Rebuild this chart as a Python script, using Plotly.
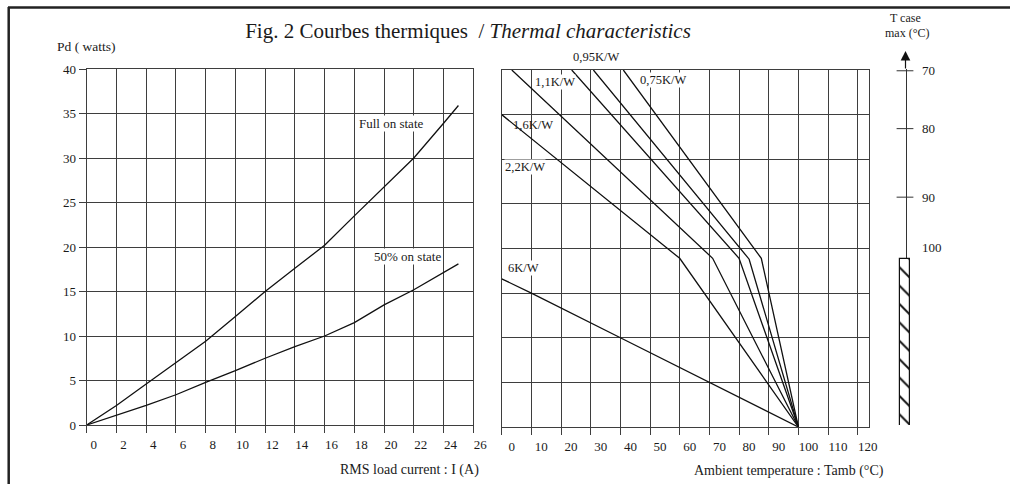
import plotly.graph_objects as go

# ---------------- data ----------------
# Left panel: dissipated power vs RMS load current
current_a = [0, 2, 4, 6, 8, 10, 12, 14, 16, 18, 20, 22, 24, 25]
pd_full_on = [0, 2.2, 4.6, 7.0, 9.4, 12.2, 15.0, 17.6, 20.2, 23.5, 26.8, 30.0, 33.9, 35.9]
pd_half_on = [0, 1.1, 2.2, 3.4, 4.8, 6.1, 7.5, 8.8, 10.0, 11.5, 13.5, 15.2, 17.1, 18.1]

# Right panel: max power vs ambient temperature for several heatsink Rth
rth_names = ["0,75K/W", "0,95K/W", "1,1K/W", "1,6K/W", "2,2K/W", "6K/W"]
tamb_075 = [41.0, 87.5, 100];  pd_075 = [40, 18.9, 0]
tamb_095 = [30.9, 83.4, 100];  pd_095 = [40, 18.8, 0]
tamb_11 = [23.6, 80.0, 100];   pd_11 = [40, 18.9, 0]
tamb_16 = [3.4, 71.1, 100];    pd_16 = [40, 18.9, 0]
tamb_22 = [0, 60.0, 100];      pd_22 = [35, 18.9, 0]
tamb_6 = [0, 10, 40, 70, 100]; pd_6 = [16.6, 15.0, 10.0, 5.0, 0]

# Case temperature scale (labels and equivalent Pd positions)
tcase_labels = ["70", "80", "90", "100"]
tcase_pd = [39.8, 33.3, 25.6, 20.0]
tcase_hatch_base = -0.35
tcase_hatch_top = 18.7

# ---------------- figure ----------------
W, H = 1010, 484
FONT = "Liberation Serif"
TXT = "#1a1a1a"
GRID = "#3e3e3e"
CURVE = "#111111"

def px(x):
    return x / W

def py(y):
    return 1 - y / H

fig = go.Figure()

fig.add_trace(go.Scatter(x=current_a, y=pd_full_on, mode="lines",
                         line=dict(color=CURVE, width=1.3), xaxis="x", yaxis="y",
                         showlegend=False, hoverinfo="skip"))
fig.add_trace(go.Scatter(x=current_a, y=pd_half_on, mode="lines",
                         line=dict(color=CURVE, width=1.3), xaxis="x", yaxis="y",
                         showlegend=False, hoverinfo="skip"))

for tx, ty in [(tamb_075, pd_075), (tamb_095, pd_095), (tamb_11, pd_11),
               (tamb_16, pd_16), (tamb_22, pd_22), (tamb_6, pd_6)]:
    fig.add_trace(go.Scatter(x=tx, y=ty, mode="lines",
                             line=dict(color=CURVE, width=1.3), xaxis="x2", yaxis="y2",
                             showlegend=False, hoverinfo="skip"))

# Hatched "forbidden" bar on the case-temperature scale
fig.add_trace(go.Bar(x=[0], y=[tcase_hatch_top - tcase_hatch_base], base=[tcase_hatch_base],
                     width=0.5, xaxis="x3", yaxis="y3", cliponaxis=False,
                     marker=dict(color="white", line=dict(color="#111", width=1.2),
                                 pattern=dict(shape="\\", size=13, solidity=0.15,
                                              fgcolor="#111", bgcolor="white")),
                     showlegend=False, hoverinfo="skip"))
# Tick marks on the case-temperature scale (70, 80, 90)
fig.add_trace(go.Scatter(x=[0] * 3, y=tcase_pd[:3], mode="markers", cliponaxis=False,
                         marker=dict(symbol="line-ew", size=12,
                                     line=dict(color="#333", width=1)),
                         xaxis="x3", yaxis="y3", showlegend=False, hoverinfo="skip"))

axis_common = dict(showgrid=True, gridcolor=GRID, gridwidth=1.1, zeroline=False,
                   showline=True, linecolor=GRID, linewidth=1.1, mirror=True,
                   ticks="outside", ticklen=7, tickcolor=GRID, automargin=False,
                   tickfont=dict(family=FONT, size=13, color=TXT))

fig.update_layout(
    template="none",
    width=W, height=H,
    margin=dict(l=0, r=0, t=0, b=0, pad=0, autoexpand=False),
    paper_bgcolor="white", plot_bgcolor="white",
    showlegend=False,
    xaxis=dict(domain=[px(86.7), px(473.3)], range=[0, 26], dtick=2, anchor="y",
               ticklabelshift=7, **axis_common),
    yaxis=dict(domain=[py(425), py(69)], range=[0, 40], dtick=5, anchor="x",
               **axis_common),
    xaxis2=dict(domain=[px(501.7), px(869.3)], range=[0, 123.9], dtick=10, anchor="y2",
                ticklabelshift=10, **axis_common),
    yaxis2=dict(domain=[py(427), py(70)], range=[0, 40], dtick=5, anchor="x2",
                showgrid=True, gridcolor=GRID, gridwidth=1.1, zeroline=False,
                showline=True, linecolor=GRID, linewidth=1.1, mirror=True,
                ticks="", showticklabels=False, automargin=False),
    xaxis3=dict(domain=[px(885), px(925)], range=[-1, 1], anchor="y3", visible=False,
                automargin=False),
    yaxis3=dict(domain=[py(425), py(69)], range=[0, 40], anchor="free",
                position=px(905.5), side="right", showgrid=False, zeroline=False,
                showline=True, linecolor="#333", linewidth=1, layer="below traces",
                tickmode="array", tickvals=tcase_pd, ticktext=tcase_labels,
                ticks="", ticklabelstandoff=13, automargin=False,
                tickfont=dict(family=FONT, size=13, color=TXT)),
    title=dict(text="Fig. 2 Courbes thermiques&nbsp; / <i>Thermal characteristics</i>",
               x=px(468), y=py(31), xanchor="center", yanchor="middle",
               xref="paper", yref="container", automargin=False,
               font=dict(family=FONT, size=21, color=TXT)),
    bargap=0,
)

ann = []

def note(text, x, y, xref="paper", yref="paper", size=13, xanchor="center", bg=None):
    d = dict(text=text, x=x, y=y, xref=xref, yref=yref, showarrow=False,
             xanchor=xanchor, yanchor="middle",
             font=dict(family=FONT, size=size, color=TXT))
    if bg:
        d["bgcolor"] = bg
        d["borderpad"] = 0
    ann.append(d)

note("Pd ( watts)", px(86), py(47), size=13.5)
note("RMS load current : I (A)", px(481), py(470), size=14, xanchor="right")
note("Ambient temperature : Tamb (°C)", px(886), py(471), size=14, xanchor="right")
note("T case", px(905), py(18), size=12)
note("max (°C)", px(907), py(33), size=12)

note("Full on state", 20.5, 33.9, "x", "y", size=13, bg="white")
note("50% on state", 21.6, 18.9, "x", "y", size=13, bg="white")

# 0,95K/W label sits above the plot area -> paper coordinates
rth_label_pos = [(54.4, 38.9, "x2", "y2"), (px(596), py(57), "paper", "paper"),
                 (18.0, 38.7, "x2", "y2"), (10.6, 33.8, "x2", "y2"),
                 (7.9, 29.1, "x2", "y2"), (7.5, 17.8, "x2", "y2")]
for name, (lx, ly, xr, yr) in zip(rth_names, rth_label_pos):
    note(name, lx, ly, xr, yr, size=12.5, bg="white" if name != "1,6K/W" else None)

# arrow head on top of the case-temperature scale
ann.append(dict(x=px(905.5), y=py(51), xref="paper", yref="paper", text="",
                showarrow=True, ax=0, ay=19, axref="pixel", ayref="pixel",
                arrowhead=2, arrowsize=1.6, arrowwidth=1.2, arrowcolor="#111"))

fig.update_layout(annotations=ann)

# outer frame (top and left edges)
fig.add_shape(type="line", xref="paper", yref="paper", x0=px(8), x1=1, y0=py(7.5), y1=py(7.5),
              line=dict(color="#222", width=2.5))
fig.add_shape(type="line", xref="paper", yref="paper", x0=px(8.7), x1=px(8.7), y0=0, y1=py(7),
              line=dict(color="#222", width=2.5))

# remove the browser's default body margin so the figure fills the window exactly
fig.write_html("out.html", config={"displayModeBar": False},
               post_script="document.body.style.margin='0';")
